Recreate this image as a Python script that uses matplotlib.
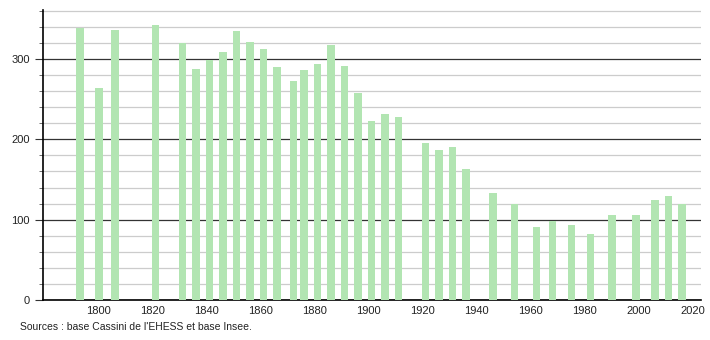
import matplotlib
matplotlib.use("Agg")
import matplotlib.pyplot as plt
from matplotlib.ticker import MultipleLocator

plt.rcParams['font.family'] = ['Liberation Sans', 'DejaVu Sans']

years = [1793, 1800, 1806, 1821, 1831, 1836, 1841, 1846, 1851, 1856, 1861, 1866,
         1872, 1876, 1881, 1886, 1891, 1896, 1901, 1906, 1911, 1921, 1926, 1931,
         1936, 1946, 1954, 1962, 1968, 1975, 1982, 1990, 1999, 2006, 2011, 2016]
population = [339, 264, 336, 342, 320, 287, 299, 309, 335, 321, 313, 290,
              273, 286, 294, 318, 291, 258, 223, 232, 228, 196, 187, 190,
              163, 133, 119, 91, 98, 93, 82, 106, 106, 125, 129, 119]
xticks = list(range(1800, 2021, 20))
yticks = [0, 100, 200, 300]

fig = plt.figure(figsize=(7.1, 3.4), dpi=100)
ax = fig.add_axes([43/710, 40/340, 658/710, 290/340])

ax.bar(years, population, width=2.8, color='#b2e5b2', zorder=3)

ax.set_xlim(1779.3, 2023)
ax.set_ylim(0, 361)
ax.set_xticks(xticks)
ax.set_yticks(yticks)
ax.yaxis.set_minor_locator(MultipleLocator(20))
ax.grid(axis='y', which='major', color='#333333', lw=0.9, zorder=1)
ax.grid(axis='y', which='minor', color='#cccccc', lw=0.9, zorder=1)
ax.tick_params(axis='x', length=0, labelsize=8, pad=4, labelcolor='#222222')
ax.tick_params(axis='y', which='major', length=6, labelsize=8, color='#333333',
               labelcolor='#222222')
ax.tick_params(axis='y', which='minor', length=3, color='#555555')
for s in ['top', 'right']:
    ax.spines[s].set_visible(False)
ax.spines['left'].set_linewidth(1.2)
ax.spines['bottom'].set_linewidth(1.2)

fig.text(20/710, 1 - 327/340, "Sources : base Cassini de l'EHESS et base Insee.",
         fontsize=7.5, va='center', ha='left', color='#222222')

fig.savefig("out.png", dpi=100)
